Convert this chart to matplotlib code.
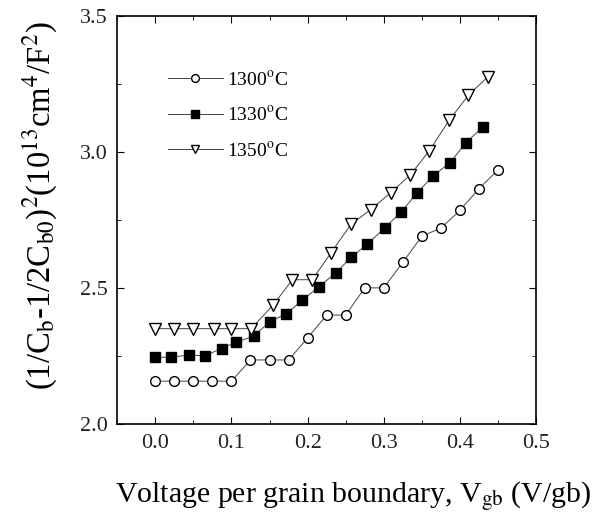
import numpy as np
import matplotlib
matplotlib.use('Agg')
import matplotlib.pyplot as plt

plt.rcParams['font.family'] = ['Liberation Serif', 'DejaVu Serif']
plt.rcParams['mathtext.fontset'] = 'stix'

# 1300 C
x_1300 = [0.0, 0.025, 0.05, 0.075, 0.1, 0.125, 0.15, 0.175, 0.2, 0.225,
          0.25, 0.275, 0.3, 0.325, 0.35, 0.375, 0.4, 0.425, 0.45]
y_1300 = [2.157, 2.157, 2.157, 2.157, 2.157, 2.235, 2.235, 2.235, 2.316, 2.40,
          2.40, 2.50, 2.50, 2.594, 2.69, 2.72, 2.785, 2.865, 2.934]
# 1330 C
x_1330 = [0.0, 0.021, 0.044, 0.065, 0.087, 0.106, 0.129, 0.150, 0.172, 0.193, 0.215,
          0.237, 0.257, 0.278, 0.301, 0.323, 0.344, 0.365, 0.387, 0.408, 0.43]
y_1330 = [2.245, 2.245, 2.253, 2.25, 2.277, 2.30, 2.322, 2.375, 2.405, 2.454, 2.505,
          2.555, 2.612, 2.66, 2.72, 2.78, 2.85, 2.912, 2.961, 3.034, 3.092]
# 1350 C
x_1350 = [0.0, 0.025, 0.05, 0.077, 0.1, 0.126, 0.155, 0.180, 0.206, 0.231,
          0.257, 0.283, 0.309, 0.335, 0.360, 0.386, 0.411, 0.437]
y_1350 = [2.35, 2.35, 2.35, 2.35, 2.35, 2.35, 2.438, 2.53, 2.53, 2.63,
          2.734, 2.788, 2.85, 2.916, 3.005, 3.117, 3.208, 3.277]

labels = ['1300$^{\\rm o}$C', '1330$^{\\rm o}$C', '1350$^{\\rm o}$C']

fig = plt.figure(figsize=(5.95, 5.15), dpi=100)
ax = fig.add_axes([0.197, 0.177, 0.704, 0.792])

line_kw = dict(color='#444444', lw=0.7, mec='black', mew=1.0)
ax.plot(x_1300, y_1300, marker='o', mfc='white', ms=7, label=labels[0], **line_kw)
ax.plot(x_1330, y_1330, marker='s', mfc='black', ms=7, label=labels[1], **line_kw)
ax.plot(x_1350, y_1350, marker='v', mfc='white', ms=8, label=labels[2], **line_kw)

ax.set_xlim(-0.05, 0.5)
ax.set_ylim(2.0, 3.5)
ax.set_xticks(np.arange(0.0, 0.51, 0.1))
ax.set_xticks(np.arange(-0.05, 0.51, 0.05), minor=True)
ax.set_yticks([2.0, 2.5, 3.0, 3.5])
ax.set_yticks(np.arange(2.0, 3.51, 0.25), minor=True)
ax.xaxis.set_major_formatter(matplotlib.ticker.FormatStrFormatter('%.1f'))
ax.yaxis.set_major_formatter(matplotlib.ticker.FormatStrFormatter('%.1f'))
ax.tick_params(which='both', direction='in', top=True, right=True,
               labelsize=16, labelcolor='#222222', pad=7)
ax.tick_params(which='major', length=5)
ax.tick_params(which='minor', length=3)
for s in ax.spines.values():
    s.set_linewidth(1.2)

ax.set_xlabel('Voltage per grain boundary, V$_{\\rm gb}$ (V/gb)', fontsize=21.5)
ax.xaxis.set_label_coords(0.563, -0.135)
ax.set_ylabel('(1/C$_{\\rm b}$-1/2C$_{\\rm b0}$)$^2$(10$^{13}$cm$^4$/F$^2$)',
              fontsize=23.5)
ax.yaxis.set_label_coords(-0.14, 0.535)

ax.legend(loc='upper left', bbox_to_anchor=(0.08, 0.91), frameon=False,
          fontsize=14, handlelength=2.8, labelspacing=0.85, handletextpad=0.2,
          markerscale=0.8)

plt.savefig('out.png', dpi=100)
